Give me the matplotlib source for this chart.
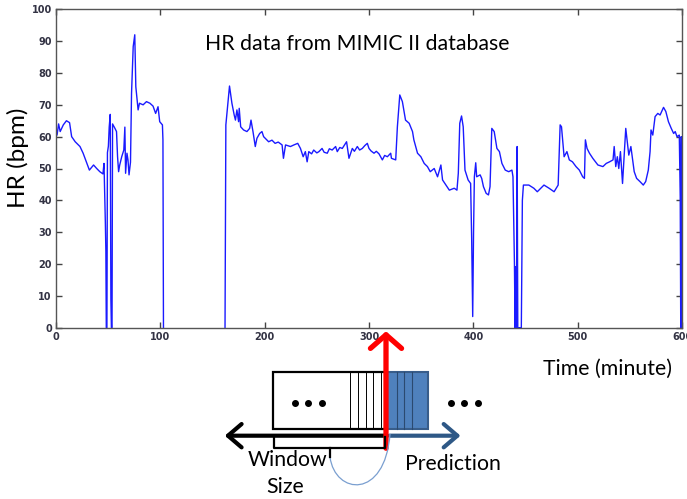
import numpy as np
import matplotlib
matplotlib.use("Agg")
import matplotlib.pyplot as plt
from matplotlib.patches import Rectangle, FancyArrowPatch, PathPatch
from matplotlib.path import Path
from matplotlib.lines import Line2D

# HR trace (time in minutes, HR in bpm); nan = gap in record
time_min = [0, 1, 2.5, 4, 7, 10, 13, 15, 18.4, 23, 26, 29, 32, 36, 39, 42, 45, 46,
            47.3, 47.8, 48.2, 48.8, 49.3, 50.2, 51, 52, 52.6, 53.1, 53.7, 54.2,
            56.5, 58, 59, 60, 61, 63, 65, 66, 66.7, 68, 69, 70, 71.4, 72.4, 74,
            75.5, 76.5, 78.7, 80, 83.5, 86.7, 90, 93, 95.5, 97.8, 99.4, 102, 102.5,
            103, 130, 162, 162.8, 166.3, 168.6, 170.8, 172, 173.4, 175, 175.6, 177,
            179.8, 183, 185.6, 186.9, 188.8, 191, 192.6, 195.2, 197.4, 199, 203.8,
            207, 210, 213, 216.7, 218, 220, 224.7, 228, 231.7, 234.3, 236.9, 239,
            240.7, 242.3, 245, 247, 250, 252, 255, 257, 260, 262, 264.7, 268, 269.6,
            272, 274.4, 278.5, 280.8, 284, 286, 288.8, 291, 293.6, 296, 298.4, 300,
            302, 304.8, 307, 309.6, 312.8, 315, 317.6, 320.8,
            321.5, 325.6, 327.2, 329.5, 332, 335, 338.5, 341.7, 343, 346.5, 349.7,
            352.9, 356, 358.7, 362.5, 365.7, 368.9, 370.5, 374.7, 377, 381.7,
            384.3, 385.6, 387, 388.7, 390.3, 392, 395, 397.4, 398.4, 399.4, 400.2,
            401, 402.3, 403.2, 406.5, 408, 409.7, 412.3, 414.5, 416, 417.7, 420,
            422.6, 425, 427.4, 430.6, 433.9, 437, 438, 439.4, 440, 440.6, 441.3,
            442, 442.6, 443.5, 446, 447, 448, 453.2, 458, 461.3, 467.7, 472.6,
            477.4, 481.3, 483.2, 484.5, 487, 489.7, 492, 495, 498.4, 501.6, 504.8,
            506.5, 507.4, 509, 511.3, 514.5, 519.4, 524.2, 527.4, 530.6, 533.9,
            535, 536.5, 538, 539.4, 541, 543, 544.5, 546.1, 547.7, 549, 551,
            552.3, 554.2, 556.5, 559.7, 562.9, 565.2, 567.7, 569.4, 570.3, 572,
            574.2, 576.8, 579, 582.3, 584.5, 587, 589.7, 592, 593.5, 595.2, 597.4,
            598.3, 598.8, 599.3, 599.7, 600]
hr_bpm = [63, 60.5, 64, 61.6, 63.7, 65, 64.4, 60, 58.4, 56.9, 54.8, 52.1, 49.5, 51.1,
          50, 49, 48.3, 51.6, 33, 24, 0, 0, 55, 57, 63, 67, 9, 0, 0, 64,
          62.6, 61.6, 53.7, 49, 51, 53.7, 55.8, 63, 48.5, 54.8, 52.7, 48, 52,
          73.6, 88.3, 92, 75.7, 68.4, 70.5, 70, 71, 70.5, 69.6, 67.3, 69.4, 64.7,
          63.7, 59, 0, np.nan, 0, 63.7, 75.9, 70.5, 66.8, 65.2, 68.4, 64.7, 68.9, 63.1,
          62.1, 61.6, 62.6, 65.2, 61.6, 56.9, 59.5, 61, 61.6, 60, 58.4,
          58.9, 57.9, 58.3, 57.4, 53.2, 57.4, 56.9, 57.4, 57.9, 56.3, 53.7, 55.3,
          52.1, 55.3, 54.6, 55.8, 54.9, 55.3, 56.3, 55.1, 54.8, 56.2, 55.8, 56.9,
          55.3, 56.6, 56.3, 58.4, 53.2, 56.3, 55.4, 56.9, 55.8, 56.3, 57.2, 57.9,
          56.3, 55.5, 54.8, 55.4, 54.6, 52.7, 54.1, 53.7, 54.8,
          53.2, 52.7, 63.1, 73.1, 71, 65.2, 64.2, 61.6, 59, 54.8, 53.7,
          51.6, 50.6, 49, 50, 47.4, 51.1, 46.4, 44.3, 43.2, 43.8,
          43.2, 48.5, 64.2, 66.5, 63.1, 49.5, 46.4, 45.3, 28, 3.5, 30,
          47.4, 51.8, 47.4, 48, 46.9, 44.3, 42.2, 41.7, 44.3, 62.6, 61.6,
          56.3, 55.3, 51.6, 49.5, 49, 49.5, 47.4, 20.2, 0, 19.2, 0,
          56.9, 0, 0, 0, 40, 44.8, 44.8, 43.8, 42.7, 44.8, 43.8,
          42.7, 44.8, 63.7, 63.1, 53.7, 55.3, 52.7, 52.1, 50.6, 49.5, 47.4,
          46.9, 59, 56.3, 54.8, 53.2, 51.1, 50.6, 51.6, 52.1, 52.7,
          56.9, 50.6, 53.7, 50, 55.3, 45.3, 53.7, 62.6, 57.9, 54.2, 56.9,
          53.7, 49, 46.9, 45.9, 44.8, 45.9, 49.5, 55.3, 62.1, 60.5,
          66.3, 67.3, 66.8, 69.2, 67.9, 64.7, 62.6, 61, 61.6, 60, 60.5,
          41, 0, 60, 0, 24.4]

xticks = [0, 100, 200, 300, 400, 500, 600]
yticks = list(range(0, 101, 10))

W, H = 687, 499
fig = plt.figure(figsize=(W / 100, H / 100), dpi=100)
ax = fig.add_axes([56 / W, 1 - 327.7 / H, 626 / W, 318.4 / H])
ax.plot(time_min, hr_bpm, color="#1a1aff", lw=1.0)
ax.set_xlim(0, 600)
ax.set_ylim(0, 100)
ax.set_xticks(xticks)
ax.set_yticks(yticks)
ax.tick_params(direction="in", top=True, right=True, length=4, width=1,
               colors="#444444", labelsize=7, pad=3)
for lab in ax.get_xticklabels() + ax.get_yticklabels():
    lab.set_fontweight("bold")
    lab.set_color("#333344")
for s in ax.spines.values():
    s.set_color("#555555")
    s.set_linewidth(1)

font = "Lato"
fs = 15.3


def fp(x, y):
    # pixel position (from top-left) -> figure fraction
    return (x / W, 1 - y / H)


fig.text(*fp(357.5, 49.5), "HR data from MIMIC II database", ha="center",
         va="baseline", fontsize=fs, family=font)
fig.text(*fp(18, 158), "HR (bpm)", rotation=90, ha="center", va="center",
         fontsize=17.5, family=font)
fig.text(*fp(543, 375), "Time (minute)", ha="left", va="baseline",
         fontsize=fs, family=font)
fig.text(*fp(287.5, 466.5), "Window", ha="center", va="baseline",
         fontsize=fs, family=font)
fig.text(*fp(285, 493), "Size", ha="center", va="baseline",
         fontsize=fs, family=font)
fig.text(*fp(405, 470), "Prediction", ha="left", va="baseline",
         fontsize=fs, family=font)

tf = fig.transFigure

# window boxes
x0, x1, x2 = 272.7, 385.7, 427.7
ytop, ybot = 371.7, 429
fig.add_artist(Rectangle(fp(x1, ybot), (x2 - x1) / W, (ybot - ytop) / H,
                         transform=tf, facecolor="#4f81bd",
                         edgecolor="#385d8a", lw=1.5))
fig.add_artist(Rectangle(fp(x0, ybot), (x1 - x0) / W, (ybot - ytop) / H,
                         transform=tf, facecolor="white", edgecolor="black",
                         lw=1.6))
for xv in [350, 357.7, 365.7, 373.3, 381]:
    fig.add_artist(Line2D([xv / W] * 2, [1 - ytop / H, 1 - ybot / H],
                          transform=tf, color="black", lw=0.7))
for xv in [396.7, 404, 411.7]:
    fig.add_artist(Line2D([xv / W] * 2, [1 - ytop / H, 1 - ybot / H],
                          transform=tf, color="#2b4a70", lw=0.8))

# dots
for xs in ([295, 308.3, 322.3], [450.7, 464.3, 477.7]):
    fig.add_artist(Line2D([v / W for v in xs], [1 - 403.3 / H] * 3,
                          transform=tf, ls="none", marker="o", ms=4,
                          color="black"))

# bracket under window
bx = [274, 274, 385, 385]
by = [436.7, 448.3, 448.3, 436.7]
fig.add_artist(Line2D([v / W for v in bx], [1 - v / H for v in by],
                      transform=tf, color="black", lw=1.6))
fig.add_artist(Line2D([330 / W] * 2, [1 - 448.3 / H, 1 - 456.7 / H],
                      transform=tf, color="black", lw=1.6))

# arrows
fig.add_artist(FancyArrowPatch(fp(386.7, 435.7), fp(222, 435.7), transform=tf,
                               arrowstyle="->,head_length=0.7,head_width=0.6",
                               mutation_scale=14, color="black", lw=3))
fig.add_artist(FancyArrowPatch(fp(386.7, 435.7), fp(463.3, 435.7), transform=tf,
                               arrowstyle="->,head_length=0.7,head_width=0.6",
                               mutation_scale=14, color="#2e5886", lw=3))
fig.add_artist(FancyArrowPatch(fp(386, 451), fp(386, 328.5), transform=tf,
                               arrowstyle="->,head_length=0.7,head_width=0.8",
                               mutation_scale=14, color="#ff0000", lw=3.8))

# thin arc
verts = [fp(330, 457), fp(335, 495), fp(385, 500), fp(390, 434)]
arc = Path(verts, [Path.MOVETO, Path.CURVE4, Path.CURVE4, Path.CURVE4])
fig.add_artist(PathPatch(arc, transform=tf, facecolor="none",
                         edgecolor="#7a9fd0", lw=0.9))

fig.savefig("out.png", dpi=100)
